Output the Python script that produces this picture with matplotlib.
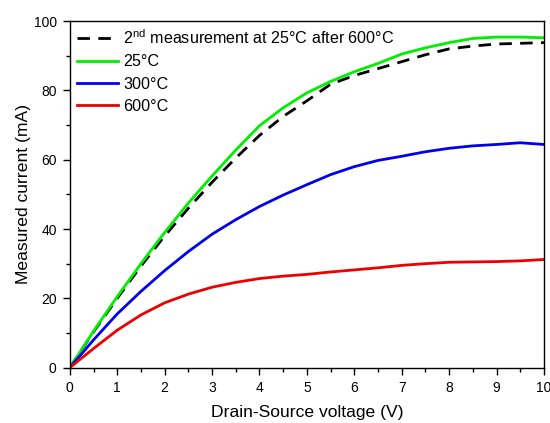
import numpy as np
import matplotlib
matplotlib.use("Agg")
import matplotlib.pyplot as plt
from matplotlib.ticker import MultipleLocator

plt.rcParams['font.family'] = ['Liberation Sans', 'DejaVu Sans']
plt.rcParams['mathtext.fontset'] = 'custom'
plt.rcParams['mathtext.rm'] = 'Liberation Sans'

# drain-source voltage (V)
vds = [0, 0.5, 1, 1.5, 2, 2.5, 3, 3.5, 4, 4.5, 5, 5.5, 6, 6.5, 7, 7.5, 8, 8.5, 9, 9.5, 10]

# measured current (mA)
i_2nd = [0, 10.3, 20, 29.3, 38, 46, 53.5, 60.5, 67, 72.5, 77, 81.8, 84.3, 86.3, 88.3, 90.3, 92, 92.8, 93.4, 93.6, 93.8]
i_25 = [0, 10.5, 20.5, 30, 39, 47.5, 55.3, 62.8, 69.8, 75, 79.3, 82.6, 85.4, 87.8, 90.5, 92.3, 93.8, 95, 95.4, 95.4, 95.2]
i_300 = [0, 8, 15.5, 22, 28, 33.5, 38.5, 42.7, 46.5, 49.8, 52.8, 55.7, 58, 59.8, 61, 62.3, 63.3, 64, 64.4, 64.9, 64.4]
i_600 = [0, 5.5, 10.8, 15.2, 18.7, 21.2, 23.2, 24.6, 25.7, 26.4, 26.9, 27.6, 28.2, 28.8, 29.5, 30, 30.4, 30.5, 30.6, 30.8, 31.2]

fig = plt.figure(figsize=(5.5, 4.23), dpi=100)
ax = fig.add_axes([0.127, 0.131, 0.862, 0.819])

ax.plot(vds, i_2nd, color="black", lw=2, dashes=(4.5, 3),
        label="2$^{\\mathrm{nd}}$ measurement at 25°C after 600°C")
ax.plot(vds, i_25, color="#00ee00", lw=2, label="25°C")
ax.plot(vds, i_300, color="#0000ee", lw=2, label="300°C")
ax.plot(vds, i_600, color="#ee0000", lw=2, label="600°C")

ax.set_xlim(0, 10)
ax.set_ylim(0, 100)
ax.xaxis.set_major_locator(MultipleLocator(1))
ax.xaxis.set_minor_locator(MultipleLocator(0.5))
ax.yaxis.set_major_locator(MultipleLocator(20))
ax.yaxis.set_minor_locator(MultipleLocator(10))
ax.tick_params(which="major", direction="out", length=5, width=1,
               labelsize=10, pad=4.5)
ax.tick_params(which="minor", direction="out", length=3, width=1)
ax.tick_params(top=False, right=False)
for s in ax.spines.values():
    s.set_linewidth(1)

ax.set_xlabel("Drain-Source voltage (V)", fontsize=12.6, labelpad=7)
ax.set_ylabel("Measured current (mA)", fontsize=12.6, labelpad=2)

ax.legend(loc="upper left", frameon=False, fontsize=11.6, handlelength=2.55,
          handletextpad=0.3, labelspacing=0.45, borderaxespad=0.0,
          borderpad=0.45, bbox_to_anchor=(0.0, 1.0))

fig.savefig("out.png", dpi=100)
